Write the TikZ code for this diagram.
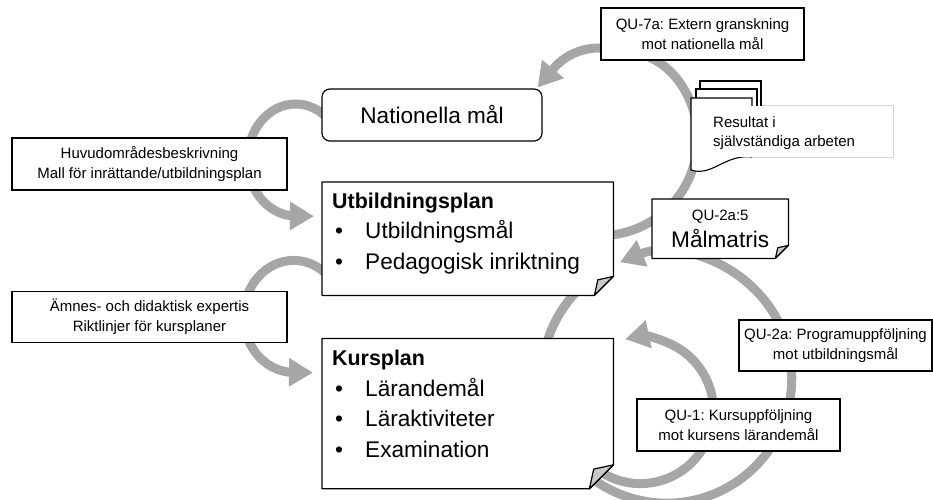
\documentclass[tikz,border=0pt]{standalone}
\usepackage{fontspec}
\setmainfont{Liberation Sans}
\usetikzlibrary{arrows.meta,positioning}
\pgfdeclarelayer{pfeil}
\pgfdeclarelayer{papper}
\pgfsetlayers{pfeil,papper,main}
\definecolor{pilgra}{RGB}{166,166,166}
\definecolor{vikgra}{RGB}{200,200,200}
\definecolor{kantgra}{RGB}{212,212,212}
\frenchspacing
\newcommand{\storfont}{\fontsize{22.6}{30.5}\selectfont}
\newcommand{\fetfont}{\bfseries\fontsize{21.4}{30.5}\selectfont}
\newcommand{\smafont}{\fontsize{15}{19.5}\selectfont}
\newcommand{\punkt}[1]{\makebox[33pt][l]{\hspace{3pt}\textbullet}#1}
% paper box with folded corner, drawn behind node #1
\newcommand{\vik}[2]{%
  \begin{pgfonlayer}{papper}
    \draw[kant,fill=white] (#1.north west) -- (#1.north east) -- ([yshift=#2]#1.south east)
      -- ([xshift=-#2]#1.south east) -- (#1.south west) -- cycle;
    \draw[kant,fill=vikgra] ([yshift=#2]#1.south east) -- ([xshift=-0.82*#2,yshift=0.82*#2]#1.south east)
      -- ([xshift=-#2]#1.south east) -- cycle;
  \end{pgfonlayer}}
\tikzset{
  kant/.style={line width=1.2pt,line join=round},
  ruta/.style={draw,line width=1.2pt,fill=white,align=center,font=\smafont,inner sep=2pt},
  plan/.style={anchor=north west,inner xsep=10pt,inner ysep=0pt},
  pil/.style={draw=pilgra,line width=9pt,-{Triangle[length=24pt,width=27pt]}}
}

\begin{document}
\begin{tikzpicture}[x=1pt,y=1pt]
  \useasboundingbox (0,0) rectangle (933,499);

  \node[ruta,rounded corners=8pt,minimum width=220pt,minimum height=52pt,font=\storfont] (nat) at (432,384) {Nationella mål};
  \node[plan] (utb) at (322,317) {\parbox[t][113pt][t]{271pt}{\storfont\rule{0pt}{26pt}{\fetfont Utbildningsplan}\\
      \punkt{Utbildningsmål}\\ \punkt{Pedagogisk inriktning}}};
  \node[plan,below=43pt of utb.south west,anchor=north west] (kurs) {\parbox[t][150pt][t]{271pt}{\storfont\rule{0pt}{27pt}{\fetfont Kursplan}\\
      \punkt{Lärandemål}\\ \punkt{Läraktiviteter}\\ \punkt{Examination}}};
  \node[anchor=north west,minimum width=136pt,minimum height=59pt,inner sep=0pt,align=center,font=\storfont] (mal) at (652,300) {{\smafont QU-2a:5}\\[-3pt]Målmatris};

  \node[ruta,minimum width=275pt,minimum height=52pt] (huv) at (149.5,335) {Huvudområdesbeskrivning\\Mall för inrättande/utbildningsplan};
  \node[ruta,minimum width=275pt,minimum height=51pt,below=100pt of huv] (amn) {Ämnes- och didaktisk expertis\\Riktlinjer för kursplaner};
  \node[ruta,minimum width=203pt,minimum height=52pt] (qu7) at (702.5,465) {QU-7a: Extern granskning\\mot nationella mål};
  \node[ruta,minimum width=193pt,minimum height=51pt] (qu2) at (835.5,153.5) {QU-2a: Programuppföljning\\mot utbildningsmål};
  \node[ruta,minimum width=203pt,minimum height=52pt] (qu1) at (738.5,74) {QU-1: Kursuppföljning\\mot kursens lärandemål};
  \node[anchor=west,align=left,font=\smafont,inner sep=0pt] (res) at (713,366) {Resultat i\\självständiga arbeten};

  \vik{utb}{19pt}
  \vik{kurs}{24pt}
  \vik{mal}{13pt}

  % stack of documents
  \begin{pgfonlayer}{papper}
    \draw[line width=1.1pt,fill=white] (700,418) rectangle (761,360);
    \draw[line width=1.1pt,fill=white] (696,410) rectangle (757,352);
    \draw[line width=1.1pt,fill=white] (691,401) -- (752,401) -- (752,342) .. controls (725,345) and (712,322) .. (691,329) -- cycle;
    \fill[white] (693,342) rectangle (893,393);
    \draw[kantgra,line width=1pt] (762,393) -- (893,393) -- (893,342) -- (752,342);
  \end{pgfonlayer}

  \begin{pgfonlayer}{pfeil}
    \draw[pil] ([xshift=-46pt,yshift=9pt]utb.east) arc[start angle=250,end angle=390,radius=97pt]
      to[out=120,in=0] ([xshift=-1pt,yshift=-14pt]qu7.west) to[out=180,in=50] ([xshift=-5pt,yshift=1pt]nat.north east);
    \draw[pil] ([xshift=11pt,yshift=-9pt]nat.west) arc[start angle=40,end angle=270,x radius=48pt,y radius=56pt]
      -- ([xshift=-8pt,yshift=22.5pt]utb.west);
    \draw[pil] ([xshift=10pt,yshift=15pt]utb.south west) arc[start angle=40,end angle=270,x radius=50pt,y radius=56pt]
      -- ([xshift=-9pt,yshift=41pt]kurs.west);
    \draw[pil] ([xshift=-27pt,yshift=13pt]utb.south east) arc[start angle=130,end angle=472,radius=125pt];
    \draw[pil] ([xshift=-9.5pt,yshift=15pt]kurs.south east) arc[start angle=240,end angle=462,radius=73pt];
  \end{pgfonlayer}
\end{tikzpicture}
\end{document}
